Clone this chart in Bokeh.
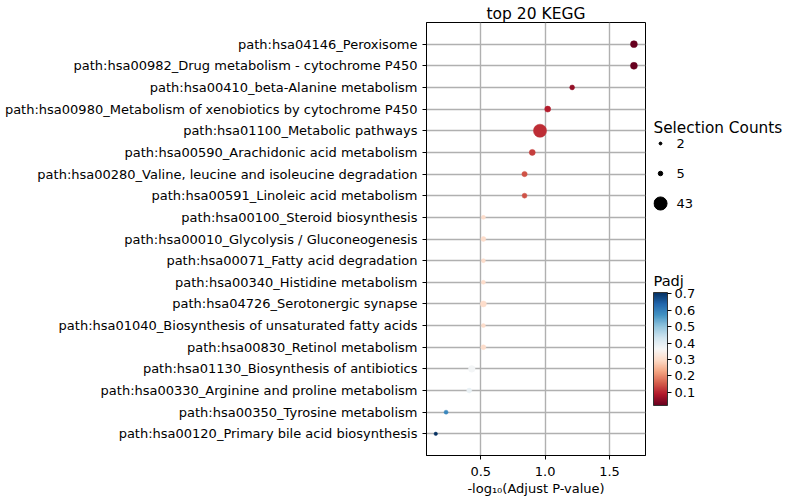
import numpy as np
from bokeh.plotting import figure
from bokeh.models import (ColumnDataSource, FactorRange, Range1d, FixedTicker, LinearColorMapper,
                          ColorBar, NumeralTickFormatter)
from bokeh.layouts import row
from bokeh.core.properties import value
from bokeh.embed import file_html
from bokeh.resources import INLINE

# ---------------- data ----------------
categories = [
    "path:hsa04146_Peroxisome",
    "path:hsa00982_Drug metabolism - cytochrome P450",
    "path:hsa00410_beta-Alanine metabolism",
    "path:hsa00980_Metabolism of xenobiotics by cytochrome P450",
    "path:hsa01100_Metabolic pathways",
    "path:hsa00590_Arachidonic acid metabolism",
    "path:hsa00280_Valine, leucine and isoleucine degradation",
    "path:hsa00591_Linoleic acid metabolism",
    "path:hsa00100_Steroid biosynthesis",
    "path:hsa00010_Glycolysis / Gluconeogenesis",
    "path:hsa00071_Fatty acid degradation",
    "path:hsa00340_Histidine metabolism",
    "path:hsa04726_Serotonergic synapse",
    "path:hsa01040_Biosynthesis of unsaturated fatty acids",
    "path:hsa00830_Retinol metabolism",
    "path:hsa01130_Biosynthesis of antibiotics",
    "path:hsa00330_Arginine and proline metabolism",
    "path:hsa00350_Tyrosine metabolism",
    "path:hsa00120_Primary bile acid biosynthesis",
]
neg_log_padj = [1.69, 1.69, 1.21, 1.02, 0.96, 0.90, 0.84, 0.84, 0.52, 0.52,
                0.52, 0.52, 0.52, 0.52, 0.52, 0.43, 0.41, 0.23, 0.15]
counts = [12, 12, 6, 9, 43, 9, 7, 6, 4, 6, 4, 4, 9, 4, 6, 11, 6, 4, 3]
legend_counts = [2, 5, 43]
legend_labels = ["2", "5", "43"]
x_ticks = [0.5, 1.0, 1.5]
cbar_ticks = [0.1, 0.2, 0.3, 0.4, 0.5, 0.6, 0.7]

# ---------------- style ----------------
FONT = "DejaVu Sans"
rdbu11 = ["#67001f", "#b2182b", "#d6604d", "#f4a582", "#fddbc7", "#f7f7f7",
          "#d1e5f0", "#92c5de", "#4393c3", "#2166ac", "#053061"]


def interp_palette(cols, n=256):
    rgb = np.array([[int(c[i:i + 2], 16) for i in (1, 3, 5)] for c in cols], float)
    pos = np.linspace(0, 1, len(cols))
    out = []
    for tt in np.linspace(0, 1, n):
        r, g, b = (np.interp(tt, pos, rgb[:, k]) for k in range(3))
        out.append("#%02x%02x%02x" % (int(round(r)), int(round(g)), int(round(b))))
    return out


palette = interp_palette(rdbu11)


def size_of(c):
    return 2.0 * np.sqrt(np.asarray(c, float))


padj = [10 ** (-v) for v in neg_log_padj]
low, high = min(padj), max(padj)
mapper = LinearColorMapper(palette=palette, low=low, high=high)

src = ColumnDataSource(dict(cat=categories, x=neg_log_padj, padj=padj,
                            size=size_of(counts)))

W_MAIN, W_SIDE, H = 653, 134, 499

p = figure(width=W_MAIN, height=H, output_backend="svg", toolbar_location=None,
           y_range=FactorRange(*reversed(categories), range_padding=0.5,
                               range_padding_units="absolute"),
           x_range=Range1d(0.078, 1.78),
           min_border_left=426, min_border_right=8, min_border_top=22, min_border_bottom=44,
           title="top 20 KEGG")
p.frame_align = False
p.title.align = "center"
p.title.text_font = FONT
p.title.text_font_size = "15.5px"
p.title.text_font_style = "normal"
p.title.text_color = "black"
p.title.standoff = 0
p.title.offset = 0

p.scatter(x="x", y="cat", size="size", source=src,
          fill_color={"field": "padj", "transform": mapper},
          line_color={"field": "padj", "transform": mapper}, line_width=0.5)

p.outline_line_color = "black"
p.background_fill_color = "white"
p.border_fill_color = "white"

for g in (p.xgrid, p.ygrid):
    g.grid_line_color = "#b0b0b0"
    g.grid_line_width = 1.4
p.xgrid.ticker = FixedTicker(ticks=x_ticks)

p.xaxis.ticker = FixedTicker(ticks=x_ticks)
p.xaxis.formatter = NumeralTickFormatter(format="0.0")
p.xaxis.axis_label = "-log\u2081\u2080(Adjust P-value)"
for ax in (p.xaxis[0], p.yaxis[0]):
    ax.axis_line_color = "black"
    ax.major_tick_line_color = "black"
    ax.major_tick_out = 4
    ax.major_tick_in = 0
    ax.minor_tick_line_color = None
    ax.major_label_text_font = FONT
    ax.major_label_text_font_size = "13px"
    ax.major_label_text_color = "black"
    ax.axis_label_text_font = FONT
    ax.axis_label_text_font_size = "13px"
    ax.axis_label_text_font_style = "normal"
    ax.axis_label_text_color = "black"
p.xaxis.major_label_standoff = 7
p.xaxis.axis_label_standoff = 2
p.yaxis.major_label_standoff = 5

# ---------------- side panel: size legend + colorbar (pixel coordinates) ----------------
s = figure(width=W_SIDE, height=H, output_backend="svg", toolbar_location=None,
           x_range=Range1d(0, W_SIDE), y_range=Range1d(H, 0),
           min_border=0, min_border_left=0, min_border_right=0,
           min_border_top=0, min_border_bottom=0)
s.frame_align = False
s.axis.visible = False
s.grid.visible = False
s.outline_line_color = None
s.background_fill_color = "white"
s.border_fill_color = "white"

leg_y = [143, 173, 203]
s.text(x=[0], y=[127], text=["Selection Counts"], text_font=value(FONT),
       text_font_size="15.3px", text_baseline="middle", text_align="left", text_color="black")
s.scatter(x=[7, 7, 7], y=leg_y, size=size_of(legend_counts), color="black")
s.text(x=[23, 23, 23], y=leg_y, text=legend_labels, text_font=value(FONT),
       text_font_size="13px", text_baseline="middle", text_align="left", text_color="black")
s.text(x=[0], y=[280], text=["Padj"], text_font=value(FONT),
       text_font_size="14.6px", text_baseline="middle", text_align="left", text_color="black")

cb = ColorBar(color_mapper=mapper, ticker=FixedTicker(ticks=cbar_ticks),
              formatter=NumeralTickFormatter(format="0.0"),
              width=14, height=int(round((high - low) / 0.1 * 16.5)),
              location=(0, 94), padding=0, margin=0,
              major_tick_out=4, major_tick_in=0, major_tick_line_color="black",
              minor_tick_line_color=None,
              bar_line_color="#333333", bar_line_width=1,
              major_label_text_font=FONT, major_label_text_font_size="13px",
              major_label_text_color="black", label_standoff=3,
              background_fill_alpha=0, border_line_color=None)
s.add_layout(cb, "center")

layout = row(p, s)
open("out.html", "w").write(file_html(layout, INLINE))
